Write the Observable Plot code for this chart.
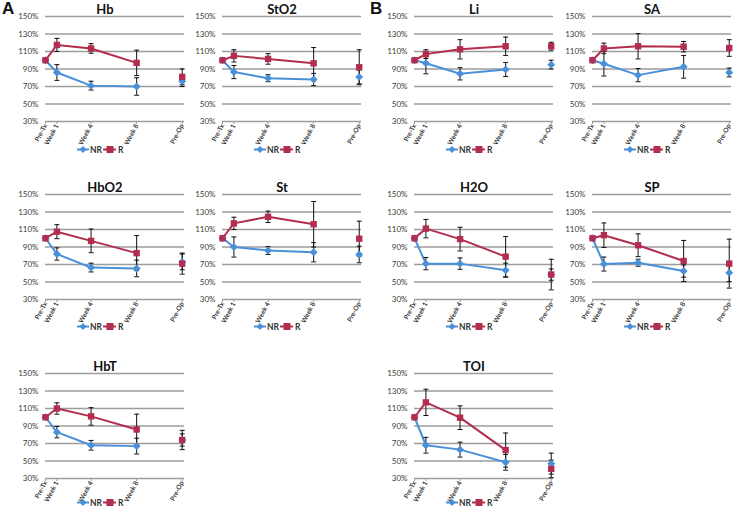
<!DOCTYPE html>
<html>
<head>
<meta charset="utf-8">
<script src="https://cdn.jsdelivr.net/npm/d3@7"></script>
<script src="https://cdn.jsdelivr.net/npm/@observablehq/plot@0.6"></script>
<style>
  html, body { margin: 0; padding: 0; background: #fff; }
  #chart { position: relative; width: 736px; height: 510px; overflow: hidden; font-family: Lato, "Open Sans", sans-serif; }
  #chart svg.plot-panel { position: absolute; overflow: visible; }
  .legend { position: absolute; font: bold 8.5px Lato, sans-serif; color: #333; line-height: 0; }
  .letter { position: absolute; font: bold 17px "Liberation Sans", Arial, sans-serif; color: #111; line-height: 17px; }
</style>
</head>
<body>
<div id="chart"></div>
<script>
// ---- axis definitions ----
const gridVals = [30, 50, 70, 90, 110, 130, 150];
const weeks = [0, 1, 4, 8, 12];
const timepoints = ["Pre-Tx", "Week 1", "Week 4", "Week 8", "Pre-Op"];
const groups = ["NR", "R"];
const groupColors = ["#4A90D9", "#B22D4E"];

// ---- data (percent of Pre-Tx), order follows timepoints ----
const hbNR = [100, 86, 71, 70, 76];
const hbNRErr = [0, 9, 5, 10, 6];
const hbR = [100, 117.5, 113.5, 97, 81];
const hbRErr = [0, 7.5, 5.5, 14.5, 9];

const sto2NR = [100, 86.5, 79.5, 78, 81];
const sto2NRErr = [0, 7.5, 4, 7, 8];
const sto2R = [100, 105, 101.5, 96.5, 92];
const sto2RErr = [0, 7, 6, 18, 20];

const liNR = [100, 96.5, 84.5, 89.5, 95];
const liNRErr = [0, 12, 7, 8, 5];
const liR = [100, 107, 112.5, 116, 116];
const liRErr = [0, 5, 11, 10.5, 4.5];

const saNR = [100, 96, 83, 92.5, 86];
const saNRErr = [0, 14, 7.5, 13, 5];
const saR = [100, 113.5, 116, 115.5, 114];
const saRErr = [0, 6, 14.5, 6, 9.5];

const hbo2NR = [100, 82, 66.5, 65.5, 73];
const hbo2NRErr = [0, 7, 5, 9.5, 9];
const hbo2R = [100, 107.5, 97, 83, 71];
const hbo2RErr = [0, 8, 13.5, 20, 12];

const stNR = [100, 90, 86, 84, 81.5];
const stNRErr = [0, 11.5, 4.5, 11, 9.5];
const stR = [100, 117, 124.5, 116, 99.5];
const stRErr = [0, 7, 6.5, 26, 20];

const h2oNR = [100, 71, 71, 63.5, 58.5];
const h2oNRErr = [0, 7, 6.5, 8, 6.5];
const h2oR = [100, 111, 99, 79, 58.5];
const h2oRErr = [0, 10.5, 13.5, 23, 17.5];

const spNR = [100, 70.5, 72, 62.5, 60.5];
const spNRErr = [0, 8, 4, 7, 10];
const spR = [100, 103.5, 92, 74, 71];
const spRErr = [0, 14, 13, 23.5, 28];

const hbtNR = [100, 83, 68, 67, 74];
const hbtNRErr = [0, 6.5, 5.5, 9, 7];
const hbtR = [100, 110, 101, 86, 74];
const hbtRErr = [0, 6.5, 10, 17.5, 11];

const toiNR = [100, 68, 63, 48.5, 47];
const toiNRErr = [0, 9, 8.5, 9, 12];
const toiR = [100, 117, 99.5, 62.5, 41];
const toiRErr = [0, 15, 13.5, 19.5, 10];

const panelTitles = ["Hb", "StO2", "Li", "SA", "HbO2", "St", "H2O", "SP", "HbT", "TOI"];
const panelCols   = [0, 1, 2, 3, 0, 1, 2, 3, 0, 2];
const panelRows   = [0, 0, 0, 0, 1, 1, 1, 1, 2, 2];
const panelData = [
  [hbNR, hbNRErr, hbR, hbRErr],
  [sto2NR, sto2NRErr, sto2R, sto2RErr],
  [liNR, liNRErr, liR, liRErr],
  [saNR, saNRErr, saR, saRErr],
  [hbo2NR, hbo2NRErr, hbo2R, hbo2RErr],
  [stNR, stNRErr, stR, stRErr],
  [h2oNR, h2oNRErr, h2oR, h2oRErr],
  [spNR, spNRErr, spR, spRErr],
  [hbtNR, hbtNRErr, hbtR, hbtRErr],
  [toiNR, toiNRErr, toiR, toiRErr]
];

// ---- layout ----
const colLeft = [45, 222, 414, 592];
const rowTop = [16, 194, 372.5];
const legendTop = [144, 321, 497];
const ML = 45, MR = 6, MT = 16, MB = 40;
const PW = 139, PH = 105;

const chart = document.getElementById("chart");

const capSymbol = {
  draw(ctx) { ctx.moveTo(-2.5, 0); ctx.lineTo(2.5, 0); }
};

panelTitles.forEach((title, k) => {
  const [nr, nrErr, r, rErr] = panelData[k];
  const rows = [];
  weeks.forEach((w, i) => {
    rows.push({g: "NR", x: w, y: nr[i], e: nrErr[i], i});
    rows.push({g: "R", x: w, y: r[i], e: rErr[i], i});
  });
  const lineData = rows.filter(d => d.i < 4);
  const errData = rows.filter(d => d.e > 0);

  const svg = Plot.plot({
    width: ML + PW + MR,
    height: MT + PH + MB,
    marginLeft: ML, marginRight: MR, marginTop: MT, marginBottom: MB,
    style: {background: "transparent", overflow: "visible", fontFamily: "Lato, sans-serif"},
    x: {domain: [0, 12.2], axis: null},
    y: {domain: [30, 150], axis: null},
    color: {domain: groups, range: groupColors},
    marks: [
      Plot.ruleY(gridVals, {stroke: "#9d9d9d", strokeWidth: 1.3}),
      Plot.axisY({ticks: gridVals, tickFormat: d => d + "%", tickSize: 0, tickPadding: 7,
        fontSize: 8, fill: "#3a3a3a", label: null}),
      Plot.axisX({ticks: weeks, tickFormat: d => timepoints[weeks.indexOf(d)],
        tickRotate: -62, tickSize: 3, tickPadding: 0, fontSize: 6.6, fontWeight: "bold",
        fill: "#3a3a3a", stroke: "#9d9d9d", textAnchor: "end", label: null}),
      Plot.line(lineData, {x: "x", y: "y", z: "g", stroke: "g", strokeWidth: 2}),
      Plot.ruleX(errData, {x: "x", y1: d => d.y - d.e, y2: d => d.y + d.e, stroke: "#111", strokeWidth: 1}),
      Plot.dot(errData, {x: "x", y: d => d.y - d.e, symbol: capSymbol, stroke: "#111", fill: "none", strokeWidth: 1}),
      Plot.dot(errData, {x: "x", y: d => d.y + d.e, symbol: capSymbol, stroke: "#111", fill: "none", strokeWidth: 1}),
      Plot.dot(rows.filter(d => d.g === "NR"), {x: "x", y: "y", symbol: "diamond2", r: 3.6, fill: "g", stroke: "none"}),
      Plot.dot(rows.filter(d => d.g === "R"), {x: "x", y: "y", symbol: "square", r: 3.6, fill: "g", stroke: "none"}),
      Plot.text([title], {frameAnchor: "top", dy: -7, dx: -10, fontSize: 13, fontWeight: "bold", fill: "#111", lineAnchor: "middle"})
    ]
  });
  svg.classList.add("plot-panel");
  const left = colLeft[panelCols[k]] - ML;
  const top = rowTop[panelRows[k]] - MT;
  svg.style.left = left + "px";
  svg.style.top = top + "px";
  chart.appendChild(svg);

  // legend
  const lg = document.createElement("div");
  lg.className = "legend";
  lg.style.left = (colLeft[panelCols[k]] + 32) + "px";
  lg.style.top = legendTop[panelRows[k]] + "px";
  lg.innerHTML =
    `<svg width="60" height="11" style="overflow:visible;display:block">
      <line x1="0" x2="12" y1="5.5" y2="5.5" stroke="${groupColors[0]}" stroke-width="2"/>
      <path d="M6,2 L9.5,5.5 L6,9 L2.5,5.5 Z" fill="${groupColors[0]}"/>
      <text x="13" y="8.5" font-size="8.5" font-weight="bold" fill="#333" font-family="Lato, sans-serif">${groups[0]}</text>
      <line x1="26" x2="39" y1="5.5" y2="5.5" stroke="${groupColors[1]}" stroke-width="2"/>
      <rect x="29.5" y="2" width="7" height="7" fill="${groupColors[1]}"/>
      <text x="41" y="8.5" font-size="8.5" font-weight="bold" fill="#333" font-family="Lato, sans-serif">${groups[1]}</text>
    </svg>`;
  chart.appendChild(lg);
});

["A", "B"].forEach((t, i) => {
  const el = document.createElement("div");
  el.className = "letter";
  el.textContent = t;
  el.style.left = (i === 0 ? 2 : 370) + "px";
  el.style.top = "0px";
  chart.appendChild(el);
});
</script>
</body>
</html>
